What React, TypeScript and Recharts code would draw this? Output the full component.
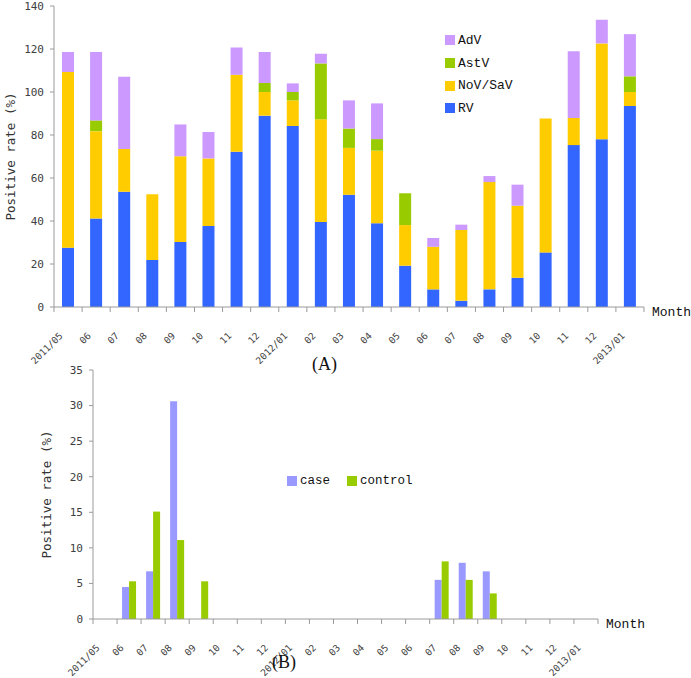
import React from 'react';
import { BarChart, Bar, XAxis, YAxis, Legend } from 'recharts';

const months = ['2011/05', '06', '07', '08', '09', '10', '11', '12', '2012/01', '02', '03', '04', '05', '06', '07', '08', '09', '10', '11', '12', '2013/01'];

// panel A, stacked (%)
const rv = [27.6, 41.2, 53.6, 21.9, 30.2, 37.7, 72.2, 89, 84.2, 39.5, 52.2, 39, 19.2, 8.2, 2.9, 8.2, 13.6, 25.4, 75.3, 78, 93.5];
const nov = [81.7, 40.6, 19.9, 30.5, 39.9, 31.4, 35.8, 11, 11.9, 47.8, 21.8, 33.7, 18.9, 19.8, 32.9, 49.9, 33.5, 62.3, 12.6, 44.6, 6.5];
const astv = [0, 5, 0, 0, 0, 0, 0, 4.2, 3.9, 26, 9, 5.4, 14.8, 0, 0, 0, 0, 0, 0, 0, 7.3];
const adv = [9.3, 31.8, 33.6, 0, 14.8, 12.3, 12.7, 14.4, 4, 4.5, 13.1, 16.6, 0, 4.1, 2.5, 2.8, 9.8, 0, 31.1, 11, 19.6];
const ticksA = [0, 20, 40, 60, 80, 100, 120, 140];
const legendOrderA = ['AdV', 'AstV', 'NoV/SaV', 'RV'];

// panel B, grouped (%)
const caseRate = [0, 4.5, 6.7, 30.6, 0, 0, 0, 0, 0, 0, 0, 0, 0, 0, 5.5, 7.9, 6.7, 0, 0, 0, 0];
const controlRate = [0, 5.3, 15.1, 11.1, 5.3, 0, 0, 0, 0, 0, 0, 0, 0, 0, 8.1, 5.5, 3.6, 0, 0, 0, 0];
const ticksB = [0, 5, 10, 15, 20, 25, 30, 35];
const legendOrderB = ['case', 'control'];

const dataA = months.map((m, i) => ({ month: m, RV: rv[i], 'NoV/SaV': nov[i], AstV: astv[i], AdV: adv[i] }));
const dataB = months.map((m, i) => ({ month: m, case: caseRate[i], control: controlRate[i] }));

const AXIS = '#9a9a9a';
const TICK_TXT = '#404040';
const MONO = '"DejaVu Sans Mono", monospace';
const SIM = '"Liberation Mono", monospace';

const W = 691;
const A_H = 378;
const A_M = { top: 6, right: 47, left: 10, bottom: 0 };
const A_YW = 44;
const B_TOP = 360;
const B_H = 318;
const B_M = { top: 10, right: 93, left: 53, bottom: 0 };
const B_YW = 40;

const bandA = (W - A_M.left - A_M.right - A_YW) / months.length;
const bandB = (W - B_M.left - B_M.right - B_YW) / months.length;

const monthTick = (band: number) => (props: any) => {
  const { x, y, payload, index } = props;
  const half = band / 2;
  const ax = x - 7;
  const ay = y + 27;
  return (
    <g>
      <line x1={x - half} y1={y} x2={x - half} y2={y + 5} stroke={AXIS} />
      {index === months.length - 1 && <line x1={x + half} y1={y} x2={x + half} y2={y + 5} stroke={AXIS} />}
      <text x={ax} y={ay} dy="0.35em" transform={`rotate(-45 ${ax} ${ay})`} textAnchor="end" fontSize={9.5} fontFamily={MONO} fill={TICK_TXT}>
        {payload.value}
      </text>
    </g>
  );
};

const yTitle = (dx: number) => (props: any) => {
  const { x, y, height } = props.viewBox;
  const cx = x + dx;
  const cy = y + height / 2;
  return (
    <text x={cx} y={cy} dy="0.35em" transform={`rotate(-90 ${cx} ${cy})`} textAnchor="middle" fontSize={12.5} fontFamily={MONO} fill="#333">
      Positive rate (%)
    </text>
  );
};

const monthTitle = (props: any) => {
  const { x, y, width } = props.viewBox;
  return (
    <text x={x + width + 8} y={y + 4} dy="0.35em" fontSize={13} fontFamily={SIM} fill="#111">
      Month
    </text>
  );
};

const ordered = (payload: any[] = [], order: string[]) =>
  [...payload].sort((a, b) => order.indexOf(a.value) - order.indexOf(b.value));

const legendA = (props: any) => (
  <div>
    {ordered(props.payload, legendOrderA).map((it: any) => (
      <div key={it.value} style={{ display: 'flex', alignItems: 'center', height: 22.7, fontFamily: SIM, fontSize: 13, color: '#111' }}>
        <span style={{ width: 10, height: 10, background: it.color, marginRight: 3 }} />
        {it.value}
      </div>
    ))}
  </div>
);

const legendB = (props: any) => (
  <div style={{ display: 'flex', alignItems: 'center' }}>
    {ordered(props.payload, legendOrderB).map((it: any) => (
      <div key={it.value} style={{ display: 'flex', alignItems: 'center', marginRight: 17, fontFamily: SIM, fontSize: 12.5, color: '#111' }}>
        <span style={{ width: 10, height: 10, background: it.color, marginRight: 3 }} />
        {it.value}
      </div>
    ))}
  </div>
);

const panelLabel: React.CSSProperties = { position: 'absolute', fontFamily: '"Liberation Serif", serif', fontSize: 18, color: '#111' };

export default function App() {
  return (
    <div style={{ position: 'absolute', left: 0, top: 0, width: W, height: 678, background: '#fff' }}>
      <div style={{ position: 'absolute', left: 0, top: 0 }}>
        <BarChart width={W} height={A_H} data={dataA} margin={A_M} barSize={12}>
          <XAxis dataKey="month" interval={0} height={A_H - 307} tickLine={false} tickSize={0} tickMargin={0} axisLine={{ stroke: AXIS }} tick={monthTick(bandA)} label={{ content: monthTitle }} />
          <YAxis width={A_YW} domain={[0, 140]} ticks={ticksA} interval={0} tickSize={4} tickMargin={6} axisLine={{ stroke: AXIS }} tickLine={{ stroke: AXIS }} tick={{ fontSize: 11, fontFamily: MONO, fill: TICK_TXT }} label={{ content: yTitle(1) }} />
          <Legend layout="horizontal" align="center" verticalAlign="middle" content={legendA} wrapperStyle={{ position: 'absolute', left: 445, top: 29, width: 80 }} />
          <Bar dataKey="RV" stackId="a" fill="#3366ff" isAnimationActive={false} />
          <Bar dataKey="NoV/SaV" stackId="a" fill="#ffcc00" isAnimationActive={false} />
          <Bar dataKey="AstV" stackId="a" fill="#99cc00" isAnimationActive={false} />
          <Bar dataKey="AdV" stackId="a" fill="#cc99ff" isAnimationActive={false} />
        </BarChart>
      </div>
      <div style={{ ...panelLabel, left: 312, top: 354 }}>(A)</div>
      <div style={{ position: 'absolute', left: 0, top: B_TOP }}>
        <BarChart width={W} height={B_H} data={dataB} margin={B_M} barSize={7} barGap={0}>
          <XAxis dataKey="month" interval={0} height={59} tickLine={false} tickSize={0} tickMargin={0} axisLine={{ stroke: AXIS }} tick={monthTick(bandB)} label={{ content: monthTitle }} />
          <YAxis width={B_YW} domain={[0, 35]} ticks={ticksB} interval={0} tickSize={4} tickMargin={6} axisLine={{ stroke: AXIS }} tickLine={{ stroke: AXIS }} tick={{ fontSize: 11, fontFamily: MONO, fill: TICK_TXT }} label={{ content: yTitle(-6) }} />
          <Legend layout="horizontal" align="center" verticalAlign="middle" content={legendB} wrapperStyle={{ position: 'absolute', left: 287, top: 114, width: 160 }} />
          <Bar dataKey="case" fill="#9999ff" isAnimationActive={false} />
          <Bar dataKey="control" fill="#99cc00" isAnimationActive={false} />
        </BarChart>
      </div>
      <div style={{ ...panelLabel, left: 272, top: 652 }}>(B)</div>
    </div>
  );
}
